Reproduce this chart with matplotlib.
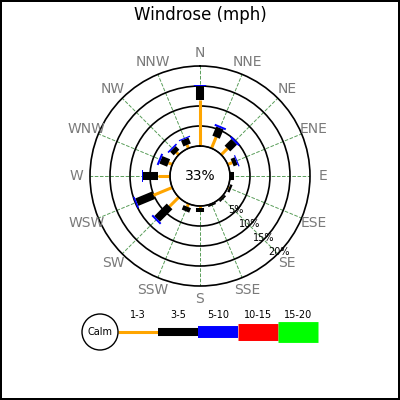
import numpy as np
import matplotlib
matplotlib.use("Agg")
import matplotlib.pyplot as plt
from matplotlib.patches import Circle

# compass directions, clockwise from north
directions = ["N", "NNE", "NE", "ENE", "E", "ESE", "SE", "SSE",
              "S", "SSW", "SW", "WSW", "W", "WNW", "NW", "NNW"]

# percent of observations per direction and speed bin (mph)
speed_bins = ["1-3", "3-5", "5-10", "10-15", "15-20"]
bin_colors = ["orange", "black", "blue", "red", "lime"]
pct_1_3 = [11.5, 3.0, 2.2, 1.2, 0.1, 0.3, 0.2, 0.1,
           0.5, 0.8, 3.25, 5.1, 2.9, 1.0, 0.8, 0.9]
pct_3_5 = [3.5, 2.5, 2.4, 1.1, 0.8, 0.6, 0.5, 0.4,
           0.9, 1.2, 4.4, 4.5, 3.75, 2.1, 1.3, 1.6]
pct_5_10 = [0.25, 0.5, 0.5, 0.3, 0.0, 0.0, 0.0, 0.0,
            0.0, 0.0, 0.5, 0.4, 0.4, 0.5, 0.4, 0.3]
pct_10_15 = [0.0] * 16
pct_15_20 = [0.0] * 16
calm_pct = 33

ring_values = [5, 10, 15, 20]
ring_labels = ["5%", "10%", "15%", "20%"]

# line widths (points) for each speed bin, thicker for faster winds
bin_widths = [2.2, 5.8, 8.6, 12.2, 15.0]

fig = plt.figure(figsize=(4, 4), dpi=100)
fig.patch.set_edgecolor("black")
fig.patch.set_linewidth(1.5)

ax = fig.add_axes([0.225, 0.285, 0.55, 0.55], projection="polar")
ax.set_theta_zero_location("N")
ax.set_theta_direction(-1)
ax.set_rorigin(-7.5)
ax.set_ylim(0, 20)

theta = np.deg2rad(np.arange(16) * 22.5)
ax.set_xticks(theta)
ax.set_xticklabels([])
ax.set_yticks(ring_values[:-1])
ax.set_yticklabels([])
ax.xaxis.grid(True, color="#3c8c3c", linestyle="--", linewidth=0.7, alpha=0.85)
ax.yaxis.grid(True, color="black", linestyle="-", linewidth=1.2)
ax.spines["polar"].set_linewidth(1.2)
ax.tick_params(length=0)

# calm circle
circ = np.linspace(0, 2 * np.pi, 200)
ax.plot(circ, np.zeros_like(circ), color="black", lw=1.2, clip_on=False, zorder=5)
ax.text(0, -7.5, f"{calm_pct}%", ha="center", va="center", fontsize=10)

# stacked bars
series = [pct_1_3, pct_3_5, pct_5_10, pct_10_15, pct_15_20]
base = np.zeros(16)
for vals, col, lw in zip(series, bin_colors, bin_widths):
    vals = np.array(vals)
    for th, r0, v in zip(theta, base, vals):
        if v > 0:
            ax.plot([th, th], [r0, r0 + v], color=col, lw=lw,
                    solid_capstyle="butt", zorder=4)
    base = base + vals

# direction labels
for th, name in zip(theta, directions):
    ax.text(th, 23.3, name, ha="center", va="center", fontsize=10,
            color="#7a7a7a", clip_on=False)

# ring labels
for rv, lab in zip(ring_values, ring_labels):
    ax.text(np.deg2rad(134), rv - 0.2, lab, ha="center", va="center",
            fontsize=7, zorder=6)

fig.suptitle("Windrose (mph)", y=0.985, fontsize=12)

# legend drawn in pixel coordinates
lax = fig.add_axes([0, 0, 1, 1])
lax.set_xlim(0, 400)
lax.set_ylim(400, 0)
lax.axis("off")
lax.patch.set_alpha(0)
lax.add_patch(Circle((100, 332), 18, facecolor="white", edgecolor="black", lw=1, zorder=3))
lax.text(100, 332, "Calm", ha="center", va="center", fontsize=7, zorder=4)
x0 = 118
for lab, col, lw in zip(speed_bins, bin_colors, bin_widths):
    lax.plot([x0, x0 + 40], [332, 332], color=col, lw=lw, solid_capstyle="butt")
    lax.text(x0 + 20, 315, lab, ha="center", va="center", fontsize=7)
    x0 += 40

fig.savefig("out.png", dpi=100)
